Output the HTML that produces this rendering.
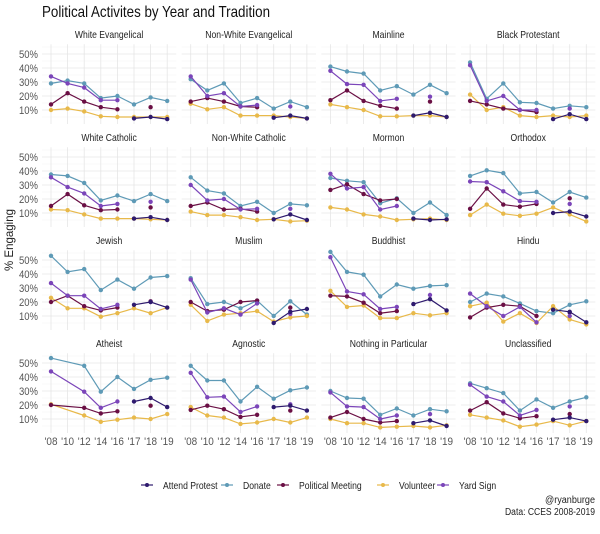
<!DOCTYPE html>
<html><head><meta charset="utf-8"><style>
body{margin:0;background:#fff;}
svg text{font-family:"Liberation Sans Narrow","Liberation Sans",sans-serif;}
</style></head><body>
<svg id="chart" width="600" height="529" xmlns="http://www.w3.org/2000/svg">
<rect width="600" height="529" fill="#fff"/>
<text x="42" y="17" font-size="16" fill="#111" textLength="228" lengthAdjust="spacingAndGlyphs">Political Activites by Year and Tradition</text>
<text transform="translate(13,240) rotate(-90)" text-anchor="middle" font-size="12" fill="#222" textLength="62" lengthAdjust="spacingAndGlyphs">% Engaging</text>
<g id="panels"></g>
<g id="legend"></g>
<text x="595" y="503" text-anchor="end" font-size="10" fill="#222" textLength="50" lengthAdjust="spacingAndGlyphs">@ryanburge</text>
<text x="595" y="515" text-anchor="end" font-size="10" fill="#222" textLength="90" lengthAdjust="spacingAndGlyphs">Data: CCES 2008-2019</text>
</svg>
<script>
const years = ["'08","'10","'12","'14","'16","'17","'18","'19"];
const yTicks = [10,20,30,40,50];
const seriesNames = ["Attend Protest","Donate","Political Meeting","Volunteer","Yard Sign"];
const seriesColors = ["#2e1a6e","#5e9ab6","#6a0f44","#e8b94a","#7b45b9"];
const panelTitles = ["White Evangelical","Non-White Evangelical","Mainline","Black Protestant","White Catholic","Non-White Catholic","Mormon","Orthodox","Jewish","Muslim","Buddhist","Hindu","Atheist","Agnostic","Nothing in Particular","Unclassified"];
const N=null;
const protest = [
[N,N,N,N,N,4,5,3.5],[N,N,N,N,N,4.5,6,4],[N,N,N,N,N,6,8,5],[N,N,N,N,N,3.5,7,3.5],
[N,N,N,N,N,6,7,5],[N,N,N,N,N,5.5,9,5],[N,N,N,N,N,6,5,5.5],[N,N,N,N,N,10,11,7.5],
[N,N,N,N,N,18,20,16],[N,N,N,N,N,5,13,15],[N,N,N,N,N,18.5,22,14],[N,N,N,N,N,14.5,13,5.5],
[N,N,N,N,N,22.5,25,18.5],[N,N,N,N,N,18.5,19.5,16],[N,N,N,N,N,7,9,5],[N,N,N,N,N,9.5,11,8.5]];
const donate = [
[29,31,29,18.5,20,14,19,16.5],[32,24,29,15,18.5,11,16,12],[41,37.5,36,24,27,21,28,22],[44,18,29,15.5,15,11,13,12],
[37.5,36.5,31.5,19,22.5,18.5,23.5,18.5],[35.5,26,24,15,18,10,16.5,15.5],[35,33,32,17,20.5,10,17.5,8.5],[36.5,40.5,38.5,24,25,17.5,25,21],
[53,41.5,43.5,28.5,36,29.5,37.5,38.5],[37,18.5,20,15.5,21,10,20.5,11],[55.8,41.5,39.5,24,32.5,29.5,31.5,32],[20,26,24,19,13.5,12,18,20.5],
[53.5,N,48,29.5,40,31.5,38,39.5],[48,37.5,37.5,22.5,33,24.5,30.5,32.5],[30,25,24.5,13,17.5,12.5,17,15.5],[35.5,32,28.5,16,24,18,22.5,25.5]];
const meeting = [
[14,22,16,12,10.5,N,12,N],[16,18.5,16,12.5,12,N,N,N],[17,24,16.5,13,11,N,16,N],[16.5,14,11,10,8.5,N,N,N],
[15,23.5,15.5,12,12.5,N,14,N],[15,17.5,12.5,13,11,N,N,N],[26.5,30.5,23.5,19,20,N,N,N],[13,27.5,16,14.5,16.5,N,20.5,N],
[20,24.5,17,14,16,N,20.5,N],[20,13.5,14.5,20,21,N,16,N],[24.5,24,19.5,12,13.5,N,N,N],[9,16,18,17,10,N,12.5,N],
[20,N,18,14,15.5,N,19.5,N],[16.5,19.5,17,11.5,13,N,16,N],[11,15,10,7.5,8.5,N,N,N],[16,22,14,10.5,12,N,13.5,N]];
const volunteer = [
[10,11,9,5.5,5,5,5,5],[14.5,10.5,12,6,6,6,5,4],[14,12,10,5.5,5.5,6,6,5],[21,10,12,6,5,6,5,6],
[12.5,12,9,6,6,6,5.5,5],[11,8.5,8.5,7,5,5.5,4,4.5],[14,12.5,9,7.5,5,5.5,6,5],[8.5,16,9.5,8,9.5,14,9,4],
[23,15.5,15.5,9.5,12,15.5,12,16],[18,6.5,11,12,13.5,6,9,10],[28,16.5,17.5,8.5,8.5,12,10.5,12],[17,19.5,6,12,5,17,7.5,4],
[20.5,N,12.5,8,9.5,11,10,13.5],[18.5,12.5,11,6.5,7.5,10,7.5,11],[10,7,7,4,4.5,5,4,5.5],[13,11,9,4.5,6,8.5,5.5,8.5]];
const yard = [
[34,29,26,17,17,N,N,N],[34,20,22,12.5,13.5,N,12.5,N],[38,28.5,28,16.5,18,N,19.5,N],[42,16.5,20,10,10,N,11,N],
[35.5,28.5,24,15,16.5,N,18,N],[30,19,20,12.5,13,N,13,N],[38,27.5,28.5,12.5,15,N,N,N],[32.5,32,25.5,18.5,18,N,16.5,N],
[33.5,24.5,24.5,15,18,N,20,N],[36,12.5,15.5,11,19,N,11.5,N],[52,27.5,25.5,15,16.5,N,25,N],[26,17,10,16.5,5.5,N,10,N],
[44,N,29.5,18,22.5,N,N,N],[43,25.5,26,15,19,N,20.5,N],[29,19,18.5,10,12.5,N,13.5,N],[34.5,26,22.5,12.5,16.5,N,19,N]];
const allSeries=[protest,donate,meeting,volunteer,yard];

const NS="http://www.w3.org/2000/svg";
function mk(tag,attrs,parent){const e=document.createElementNS(NS,tag);for(const k in attrs)e.setAttribute(k,attrs[k]);parent.appendChild(e);return e;}
const COL0=51, COLW=139.7, XSTEP=16.6, ROW0=124, ROWH=103, YS=1.4;
function xs(c,i){return COL0+c*COLW+i*XSTEP;}
function ys(r,v){return ROW0+r*ROWH-v*YS;}
const root=document.getElementById('panels');
panelTitles.forEach((t,p)=>{
  const r=Math.floor(p/4), c=p%4;
  const g=mk('g',{},root);
  
  
  const left=xs(c,0)-9, right=xs(c,7)+9, top=ys(r,57), bot=ys(r,0);
  for(let v=5;v<=55;v+=5){
    const ln=mk('line',{x1:left,x2:right,y1:ys(r,v),y2:ys(r,v),stroke:v%10?'#f3f3f3':'#e6e6e6','stroke-width':v%10?0.5:0.8},g);
    
    
  }
  years.forEach((y,i)=>{
    const ln=mk('line',{x1:xs(c,i),x2:xs(c,i),y1:top,y2:bot,stroke:'#e6e6e6','stroke-width':0.8},g);
    
    
  });
  const cx=(xs(c,0)+xs(c,7))/2, ty=ys(r,0)-86;
  const tt=mk('text',{x:0,y:0,'text-anchor':'middle','font-size':10.5,fill:'#222',transform:`translate(${cx},${ty}) scale(0.82,1)`},g);
  tt.textContent=t;
  
  
  if(c===0){yTicks.forEach(v=>{
    const tx=mk('text',{x:38,y:ys(r,v)+4,'text-anchor':'end','font-size':11,fill:'#555',textLength:19,lengthAdjust:'spacingAndGlyphs'},g);
    tx.textContent=v+'%';
    
    
  });}
  if(r===3){years.forEach((y,i)=>{
    const tx=mk('text',{x:xs(c,i),y:ys(r,0)+12,'text-anchor':'middle','font-size':11,fill:'#555',textLength:13,lengthAdjust:'spacingAndGlyphs'},g);
    tx.textContent=y;
    
    
  });}
  [1,3,2,4,0].forEach(s=>{
    const vals=allSeries[s][p], col=seriesColors[s];
    let seg=[];
    const flush=()=>{if(seg.length>1){const pl=mk('polyline',{points:seg.join(' '),fill:'none',stroke:col,'stroke-width':1.2},g);
      
      }seg=[];};
    vals.forEach((v,i)=>{
      if(v===null){if(i===5)flush();return;}
      seg.push(xs(c,i)+','+ys(r,v));
    });
    flush();
    vals.forEach((v,i)=>{
      if(v===null)return;
      const d=mk('circle',{cx:xs(c,i),cy:ys(r,v),r:2.2,fill:col},g);
      
      
    });
  });
});
const leg=document.getElementById('legend');
const legX=[147,227,283,383,443];
seriesNames.forEach((n,i)=>{
  const g=mk('g',{},leg);
  
  
  mk('line',{x1:legX[i]-6,x2:legX[i]+6,y1:485,y2:485,stroke:seriesColors[i],'stroke-width':1.2},g);
  mk('circle',{cx:legX[i],cy:485,r:2,fill:seriesColors[i]},g);
  const t=mk('text',{x:0,y:0,'font-size':10.5,fill:'#222',transform:`translate(${legX[i]+16},489) scale(0.82,1)`},g);
  t.textContent=n;
});
</script>
</body></html>
